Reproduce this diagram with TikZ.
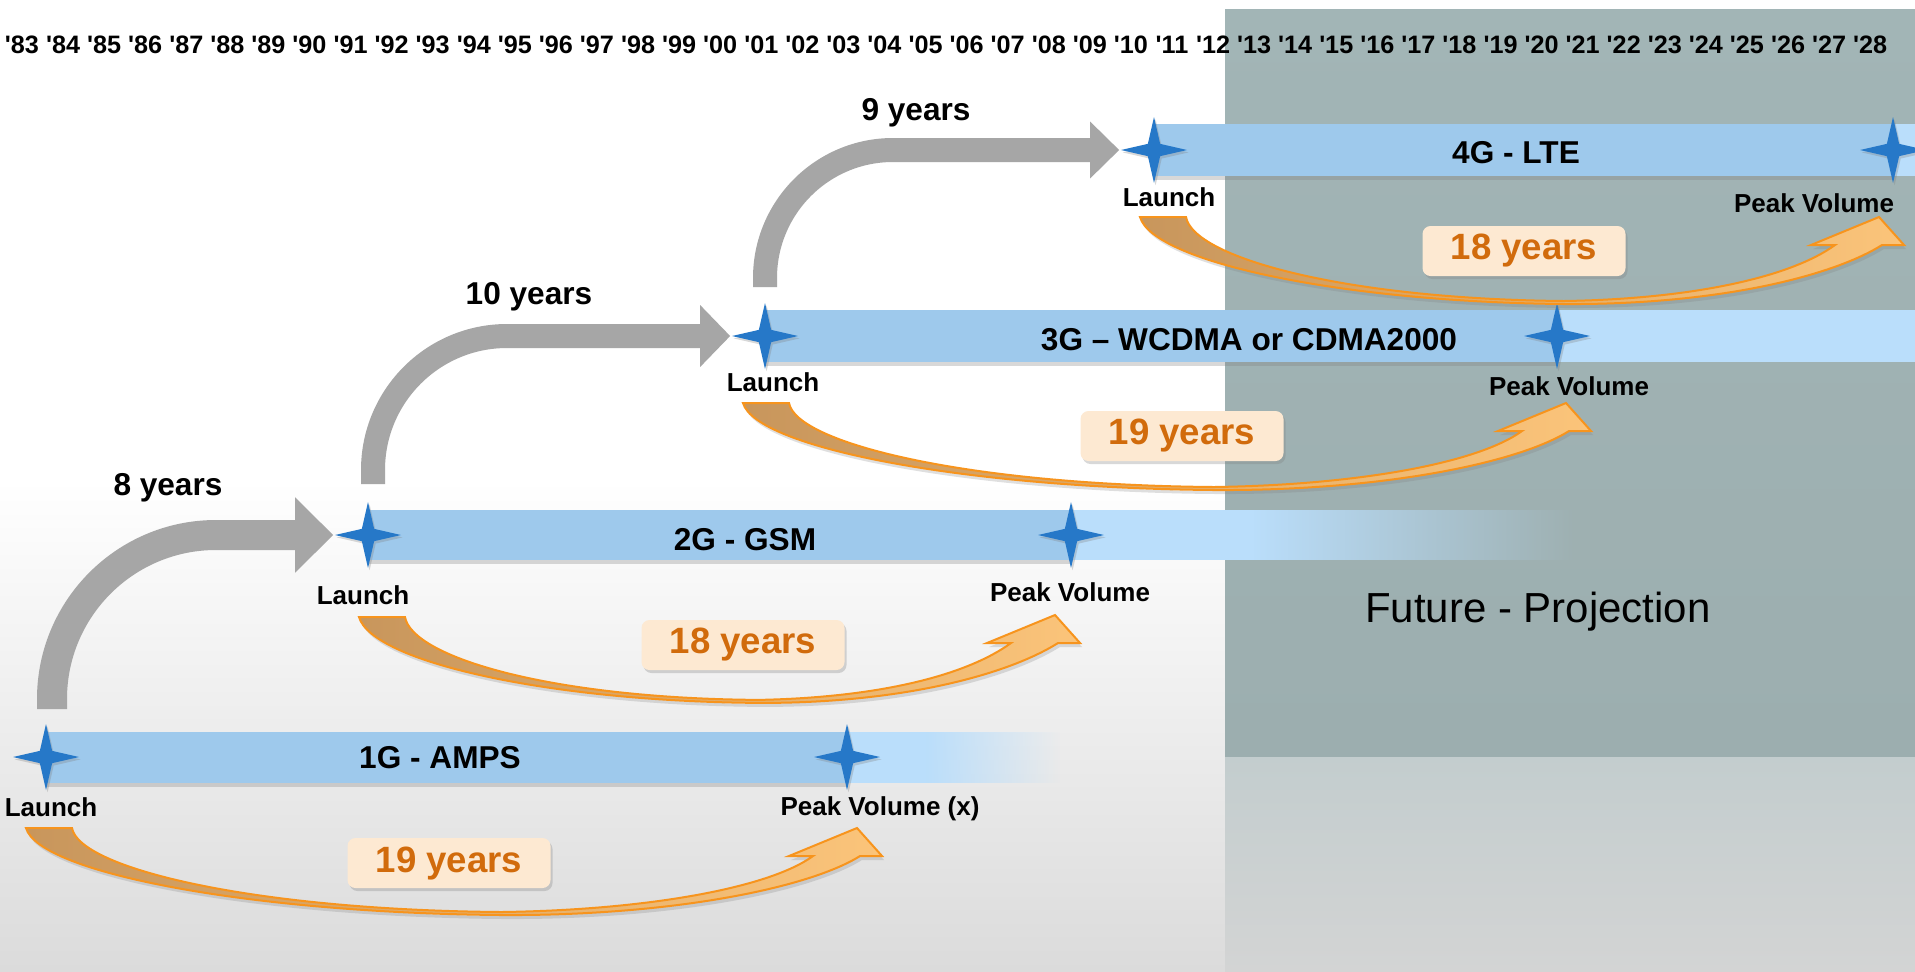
\documentclass[tikz,border=0pt]{standalone}
\usepackage{fontspec}
\setmainfont{Liberation Sans}
\usetikzlibrary{calc}
\usetikzlibrary{positioning}
\usetikzlibrary{shapes.geometric}
\usetikzlibrary{arrows.meta,shadows,fadings}

\definecolor{starblue}{RGB}{38,120,200}
\definecolor{barsolid}{RGB}{158,201,236}
\definecolor{barlight}{RGB}{186,222,251}
\definecolor{hopgrey}{RGB}{166,166,166}
\definecolor{boxpeach}{RGB}{253,233,210}
\definecolor{yearsorange}{RGB}{209,107,12}
\definecolor{spanorange}{RGB}{247,148,29}
\definecolor{spanbrown}{RGB}{200,150,92}
\definecolor{spanlight}{RGB}{251,196,122}
\definecolor{futuretop}{RGB}{162,181,182}
\definecolor{futurebottom}{RGB}{156,174,175}
\definecolor{lowteal}{RGB}{195,205,206}
\definecolor{lowgrey}{RGB}{211,212,212}
\definecolor{bggrey}{RGB}{219,219,219}

\tikzset{
	milestone/.style={
		star, star points=4, star point ratio=3.8,
		minimum size=33pt, inner sep=0pt,
		fill=starblue,
		drop shadow={shadow xshift=0.8pt, shadow yshift=-1.2pt, opacity=0.3}},
	genname/.style={font=\bfseries\fontsize{15.8}{19}\selectfont},
	tag/.style={font=\bfseries\fontsize{13}{16}\selectfont},
	hoplabel/.style={font=\bfseries\fontsize{15.8}{19}\selectfont},
	yeartick/.style={anchor=base, inner sep=0pt, font=\bfseries\fontsize{12.6}{15}\selectfont},
	yearsbox/.style={
		rectangle, rounded corners=4pt,
		fill=boxpeach,
		minimum width=101.5pt, minimum height=25pt,
		text=yearsorange,
		font=\bfseries\fontsize{18.3}{22}\selectfont,
		drop shadow={shadow xshift=1pt, shadow yshift=-1.5pt, opacity=0.3}},
	hop/.style={draw=hopgrey},
	spanarrow/.style={
		left color=spanbrown, right color=spanlight,
		draw=spanorange, line width=1pt, line join=miter,
		drop shadow={shadow xshift=1pt, shadow yshift=-2pt, opacity=0.25}},
	barshadow/.style={drop shadow={shadow xshift=0pt, shadow yshift=-2pt, opacity=0.3}},
}

% curved ribbon arrow from launch (#1) to peak (#2)
\newcommand\yearspan[2]{%
	\path[spanarrow] ($#1+(-23,0)$)
		.. controls ($#1+(-10,45)$) and ($#1!0.25!#2+(0,85)$) .. ($#1!0.56!#2+(0,87)$)
		.. controls ($#1!0.77!#2+(0,88)$) and ($#2+(-48,60)$) .. ($#2+(3,28)$)
		-- ($#2+(25,28)$) -- #2 -- ($#2+(-68,28)$) -- ($#2+(-44,28)$)
		.. controls ($#2+(-88,60)$) and ($#1!0.74!#2+(0,82)$) .. ($#1!0.56!#2+(0,84)$)
		.. controls ($#1!0.25!#2+(0,82)$) and ($#1+(30,40)$) .. ($#1+(23,0)$) -- cycle;}

\begin{document}
\begin{tikzpicture}[x=0.5pt, y=-0.5pt, font=\bfseries]
	\useasboundingbox (0,0) rectangle (1915,971);
	% background
	\fill[white] (0,0) rectangle (1915,971);
	\shade[top color=white, bottom color=bggrey] (0,480) rectangle (1225,971);
	\shade[top color=lowteal, bottom color=lowgrey] (1225,756) rectangle (1915,971);
	\shade[top color=futuretop, bottom color=futurebottom] (1225,9) rectangle (1915,756);
	
	% years
	\foreach \yr [count=\i from 0] in {83,84,85,86,87,88,89,90,91,92,93,94,95,96,97,98,99,00,01,02,03,04,05,06,07,08,09,10,11,12,13,14,15,16,17,18,19,20,21,22,23,24,25,26,27,28}
		\node[yeartick] (yr\yr) at ({22+41.07*\i},53) {\textquotesingle\yr};
	
	% bars
	\fill[barsolid, barshadow] (46,732) rectangle (847,783);
	\fill[barlight] (847,732) rectangle (926,783);
	\fill[barlight, path fading=east] (926,732) rectangle (1060,783);
	\fill[barsolid, barshadow] (368,510) rectangle (1071,560);
	\fill[barlight] (1071,510) rectangle (1253,560);
	\fill[barlight, path fading=east] (1253,510) rectangle (1575,560);
	\fill[barsolid, barshadow] (765,310) rectangle (1557,362);
	\fill[barlight] (1557,310) rectangle (1915,362);
	\fill[barsolid, barshadow] (1154,124) rectangle (1893,176);
	\fill[barlight] (1893,124) rectangle (1915,176);
	
	\node[genname] (g1) at (440,758) {1G - AMPS};
	\node[genname] (g2) at (745,540) {2G - GSM};
	\node[genname] (g3) at (1249,340) {3G – WCDMA or CDMA2000};
	\node[genname] (g4) at (1516,153) {4G - LTE};
	
	% launch and peak
	\node[milestone] (l1) at (46,757) {};
	\node[milestone] (p1) at (847,757) {};
	\node[milestone] (l2) at (368,535) {};
	\node[milestone] (p2) at (1071,535) {};
	\node[milestone] (l3) at (765,336) {};
	\node[milestone] (p3) at (1557,336) {};
	\node[milestone] (l4) at (1154,150) {};
	\node[milestone] (p4) at (1893,150) {};
	
	\node[tag] (lt1) at (51,807) {Launch};
	\node[tag] (pt1) at (880,809) {Peak Volume (x)};
	\node[tag] (lt2) at (363,595) {Launch};
	\node[tag] (pt2) at (1070,592) {Peak Volume};
	\node[tag] (lt3) at (773,382) {Launch};
	\node[tag] (pt3) at (1569,386) {Peak Volume};
	\node[tag] (lt4) at (1169,197) {Launch};
	\node[tag] (pt4) at (1814,203) {Peak Volume};
	
	% generation gaps
	\coordinate (s1) at ($(l1)+(6,-48)$);
	\coordinate (s2) at ($(l2)+(5,-51)$);
	\coordinate (s3) at ($(l3)+(0,-49)$);
	\draw[hop, line width=15pt, -{Triangle[length=19pt,width=36.5pt]}, rounded corners=82pt] (s1) |- (l2.west);
	\draw[hop, line width=12pt, -{Triangle[length=15pt,width=30pt]}, rounded corners=67pt] (s2) |- (l3.west);
	\draw[hop, line width=12pt, -{Triangle[length=14.5pt,width=27.5pt]}, rounded corners=64pt] (s3) |- (l4.west);
	\node[hoplabel] (h1) at (168,488) {8 years};
	\node[hoplabel] (h2) at (529,297) {10 years};
	\node[hoplabel] (h3) at (916,113) {9 years};
	
	% launch to peak
	\coordinate (a1) at ($(l1)+(3,71)$);
	\coordinate (b1) at ($(p1)+(10,71)$);
	\coordinate (a2) at ($(l2)+(14,82)$);
	\coordinate (b2) at ($(p2)+(-16,80)$);
	\coordinate (a3) at ($(l3)+(1,67)$);
	\coordinate (b3) at ($(p3)+(9,67)$);
	\coordinate (a4) at ($(l4)+(9,67)$);
	\coordinate (b4) at ($(p4)+(-14,67)$);
	\yearspan{(a1)}{(b1)}
	\yearspan{(a2)}{(b2)}
	\yearspan{(a3)}{(b3)}
	\yearspan{(a4)}{(b4)}
	
	\node[yearsbox] (d1) at (449,863) {19 years};
	\node[yearsbox] (d2) at (743,645) {18 years};
	\node[yearsbox] (d3) at (1182,436) {19 years};
	\node[yearsbox] (d4) at (1524,251) {18 years};
	
	\node[font=\mdseries\fontsize{21}{25}\selectfont] (future) at (1538,612) {Future - Projection};
\end{tikzpicture}
\end{document}
